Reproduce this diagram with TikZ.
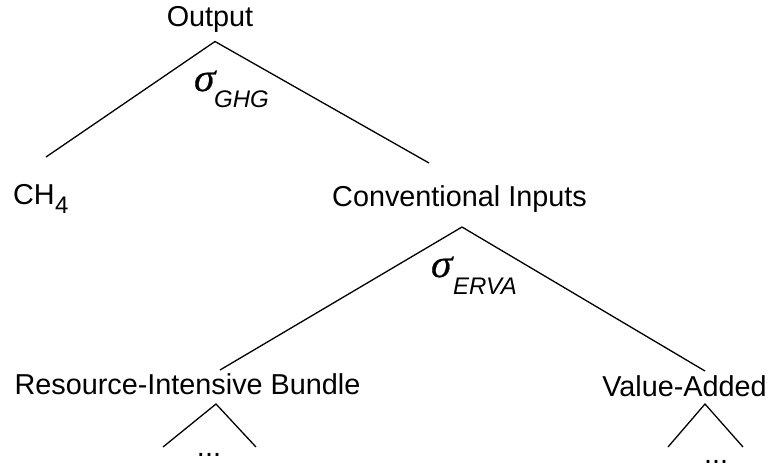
\documentclass[tikz,border=0pt]{standalone}
\usepackage{fontspec}
\setmainfont{Liberation Sans}
\newfontfamily\sigfont[FakeSlant=0.18,FakeBold=0.6]{Liberation Serif}
\begin{document}
\begin{tikzpicture}[x=1pt,y=-1pt,
  lbl/.style={anchor=base,inner sep=0pt,font=\fontsize{28.8}{34}\selectfont},
  sig/.style={anchor=base west,inner sep=0pt,font=\sigfont\fontsize{40}{44}\selectfont},
  sub/.style={anchor=base west,inner sep=0pt,font=\itshape\fontsize{24}{28}\selectfont},
  edge/.style={line width=1.3pt,black}]
\useasboundingbox (0,0) rectangle (769,467);
% labels
\node[lbl] (out) at (210,26) {Output};
\node[lbl,anchor=base west] (ch) at (13,204) {CH};
\node[inner sep=0pt,anchor=base west,font=\fontsize{24}{28}\selectfont] (four) at (ch.base east) [yshift=-9pt] {4};
\node[lbl] (ci) at (459.5,206) {Conventional Inputs};
\node[lbl] (rib) at (187.5,394) {Resource-Intensive Bundle};
\node[lbl] (va) at (684.5,396) {Value-Added};
\node[lbl] (d1) at (209,456) {...};
\node[lbl] (d2) at (716,463.5) {...};
% elasticities
\node[sig] (s1) at (192,91) {σ};
\node[sub] (g1) at (214,107) {GHG};
\node[sig] (s2) at (429,277) {σ};
\node[sub] (g2) at (453,294) {ERVA};
% connector points
\coordinate (oA) at (215,41.5);
\coordinate (oL) at (46,157);
\coordinate (oR) at (429,163);
\coordinate (cA) at (462,227);
\coordinate (cL) at (220,370);
\coordinate (cR) at (705,371);
\coordinate (rA) at (216,404);
\coordinate (rL) at (163,447);
\coordinate (rR) at (256,447);
\coordinate (vA) at (705,404);
\coordinate (vL) at (668,447);
\coordinate (vR) at (743,447);
\draw[edge] (oL) -- (oA) -- (oR);
\draw[edge] (cL) -- (cA) -- (cR);
\draw[edge] (rL) -- (rA) -- (rR);
\draw[edge] (vL) -- (vA) -- (vR);
\end{tikzpicture}
\end{document}
